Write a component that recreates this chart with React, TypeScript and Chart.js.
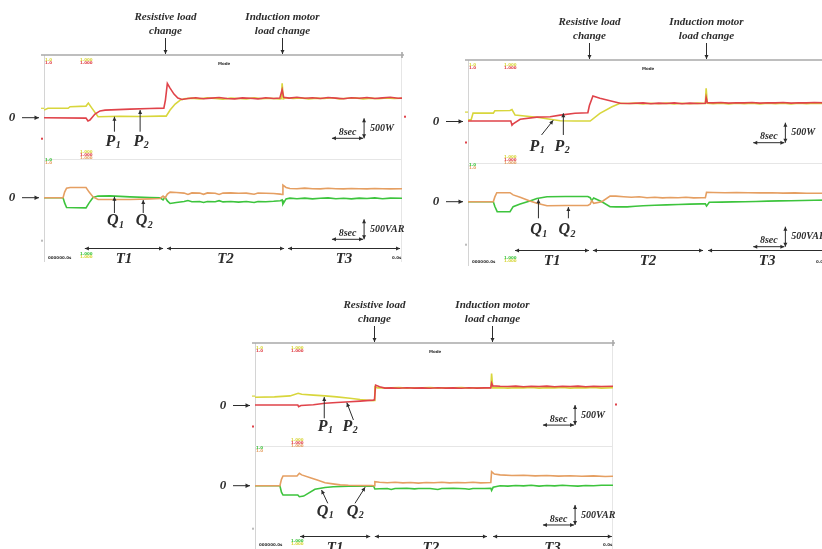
import React, { useEffect, useRef } from "react";
import { Chart, registerables } from "chart.js";

Chart.register(...registerables);

type Pt = [number, number];

// ---------- shared ----------
const TIME_SPAN = 92; // seconds shown across each scope screen
const SCALE_SEC = 8;
const SCALE_POWER = 500;
const T_LABELS = ["T1", "T2", "T3"];
const EVENT_LABELS: string[][] = [
  ["Resistive load", "change"],
  ["Induction motor", "load change"],
];

// ---------- Panel A (top left) : time [s], P [W], Q [VAR] ----------
const A_P1: Pt[] = [
  [0, 190], [1, 235], [6.2, 235], [6.7, 275], [10.8, 290], [11.4, 365], [12.3, 240], [13.9, 25],
  [19.5, 35], [24.7, 30], [29.8, 40], [31.4, 40], [32.4, 190], [33.7, 340], [35, 440], [36, 475],
  [38, 490], [40, 470], [42, 495], [44, 480], [46, 465], [48, 490], [50, 480], [52, 470], [54, 495],
  [56, 475], [58, 485], [60.6, 470], [61.0, 480], [61.2, 860], [61.5, 470], [62.2, 500], [64, 480],
  [66, 495], [68, 470], [70, 490], [72, 480], [74, 500], [76, 470], [78, 485], [80, 495], [82, 470],
  [84, 490], [86, 475], [88, 495], [90, 480], [92, 485],
];
const A_P2: Pt[] = [
  [0, 0], [10.8, -10], [11.3, -80], [11.8, -60], [13.1, 90], [14.4, 170], [15.7, 190], [22.1, 215],
  [27.2, 230], [30.8, 240], [31.2, 440], [31.7, 855], [32.4, 740], [33.4, 590], [34.4, 490], [35.5, 455],
  [37, 480], [39, 500], [41, 475], [43, 490], [45, 505], [47, 480], [49, 470], [51, 495], [53, 485],
  [55, 470], [57, 500], [59, 480], [60.6, 490], [61.2, 700], [61.6, 510], [63, 490], [65, 510], [67, 485],
  [69, 500], [71, 480], [73, 505], [75, 490], [77, 475], [79, 500], [81, 485], [83, 505], [85, 480],
  [87, 495], [89, 510], [91, 485], [92, 490],
];
const A_Q1: Pt[] = [
  [0, 0], [4.9, 0], [5.3, -130], [5.8, -245], [10.8, -255], [11.6, -130], [12.6, 5], [13.9, 40],
  [17, 45], [22.1, 20], [27.2, 5], [29.8, -5], [30.6, -55], [31.1, 15], [31.7, -80], [32.4, -145],
  [34, -120], [36, -95], [37, -70], [38, -100], [40, -95], [41, -120], [42, -95], [44, -100], [45, -75],
  [46, -105], [48, -95], [50, -110], [52, -95], [54, -120], [55, -95], [57, -100], [59, -90], [60.7, -75],
  [61.2, -55], [61.4, -160], [62.2, -30], [63.2, -10], [65, -25], [67, -10], [69, -30], [71, -15],
  [73, -5], [75, -25], [77, -15], [79, -30], [81, -10], [83, -20], [85, -5], [87, -25], [89, -10], [92, -15],
];
const A_Q2: Pt[] = [
  [0, 0], [4.9, 0], [5.3, 140], [5.8, 240], [6.7, 255], [10.8, 255], [11.6, 140], [12.6, 20], [13.9, -45],
  [17, -45], [22.1, -45], [27.2, -30], [29.8, -20], [30.6, 40], [31.1, -10], [31.7, 90], [32.4, 140],
  [34, 130], [36, 115], [37, 80], [38, 120], [40, 115], [41, 85], [42, 120], [44, 110], [45, 80], [46, 115],
  [48, 120], [50, 110], [52, 115], [54, 85], [55, 115], [57, 110], [59, 105], [60.7, 90], [61.2, 80],
  [61.4, 315], [62.2, 255], [63.2, 230], [65, 225], [67, 240], [69, 225], [71, 220], [73, 235], [75, 225],
  [77, 220], [79, 230], [81, 225], [83, 220], [85, 230], [87, 225], [89, 220], [92, 225],
];
const A_EVENTS = [31.1, 61.2];
const A_T: Pt[] = [[10.5, 30.6], [31.6, 61.7], [62.7, 91.5]];

// ---------- Panel B (top right) ----------
const B_P1: Pt[] = [
  [0, 40], [0.8, 40], [1.3, 210], [6.5, 210], [6.9, 270], [10.8, 275], [11.3, 300], [12.1, 160],
  [17.7, 105], [21.1, 55], [23.7, 20], [27.5, 12], [31.4, 12], [33.9, 205], [37, 370], [39.1, 455],
  [41, 450], [43, 460], [45, 440], [47, 455], [49, 445], [51, 460], [53, 440], [55, 455], [57, 445],
  [59, 460], [61.0, 450], [61.2, 830], [61.5, 455], [63, 445], [65, 460], [67, 440], [69, 455], [71, 445],
  [73, 460], [75, 440], [77, 455], [79, 445], [81, 460], [83, 440], [85, 455], [87, 445], [89, 460], [92, 450],
];
const B_P2: Pt[] = [
  [0, 12], [11.0, 12], [11.3, -90], [11.6, -60], [13.4, 55], [17.7, 110], [21.1, 120], [23.7, 160],
  [27.5, 205], [30.8, 220], [31.2, 400], [32.1, 640], [33.9, 580], [36.5, 520], [39.1, 455], [41.6, 450],
  [43, 455], [45, 465], [47, 445], [49, 460], [51, 450], [53, 465], [55, 445], [57, 460], [59, 450],
  [61.0, 455], [61.2, 600], [61.5, 470], [63, 465], [65, 475], [67, 460], [69, 470], [71, 465], [73, 475],
  [75, 460], [77, 470], [79, 465], [81, 475], [83, 460], [85, 470], [87, 465], [89, 475], [92, 465],
];
const B_Q1: Pt[] = [
  [0, 0], [6.5, 0], [6.9, -120], [7.5, -250], [10.8, -250], [11.6, -125], [13.4, -60], [15.9, 20],
  [17.7, 80], [20.3, 125], [25, 130], [30.8, 130], [31.4, 100], [31.8, 25], [32.3, 95], [34.4, 0],
  [36.5, -125], [38, -130], [40.9, -130], [43, -115], [45, -100], [48, -90], [51, -80], [54, -70],
  [57, -60], [60, -55], [61.0, -55], [61.3, -110], [62, -15], [65, -10], [68, -5], [71, 0], [74, 5],
  [77, 15], [80, 20], [83, 25], [86, 30], [89, 35], [92, 40],
];
const B_Q2: Pt[] = [
  [0, 0], [6.5, 0], [6.9, 120], [7.4, 225], [10.8, 225], [11.6, 170], [13.4, 110], [15.9, 20],
  [17.7, -40], [20.3, -100], [25, -95], [30.8, -95], [31.4, -60], [31.8, 25], [32.3, -40], [34.4, 0],
  [36.5, 140], [38, 140], [40, 125], [42, 110], [44, 125], [46, 100], [48, 110], [50, 95], [52, 105],
  [54, 100], [56, 110], [58, 95], [60, 100], [61.0, 100], [61.3, 235], [63, 230], [66, 225], [69, 230],
  [72, 225], [75, 220], [78, 225], [81, 215], [84, 220], [87, 210], [92, 210],
];
const B_EVENTS = [31.1, 61.2];
const B_T: Pt[] = [[12.1, 31.1], [32.1, 60.4], [61.7, 92]];

// ---------- Panel C (bottom) ----------
const C_P1: Pt[] = [
  [0, 205], [5, 215], [9, 240], [11.1, 305], [12, 280], [15, 260], [18, 240], [21, 215], [24.4, 180],
  [27, 150], [30.3, 120], [30.7, 125], [30.8, 470], [31.5, 440], [33, 445], [35, 440], [37, 450],
  [39, 435], [41, 445], [43, 440], [45, 450], [47, 435], [49, 445], [51, 440], [53, 450], [55, 435],
  [57, 445], [59, 440], [60.6, 445], [60.8, 800], [61.1, 440], [63, 445], [65, 435], [67, 445], [69, 440],
  [71, 450], [73, 435], [75, 445], [77, 440], [79, 450], [81, 435], [83, 445], [85, 440], [87, 450],
  [89, 435], [92, 445],
];
const C_P2: Pt[] = [
  [0, 12], [11.0, 12], [11.2, -30], [11.8, 0], [15, 20], [18, 55], [21, 75], [24.4, 95], [27, 110],
  [30.3, 135], [30.7, 140], [31.0, 510], [32, 470], [33.4, 435], [35, 440], [37, 430], [39, 445],
  [41, 435], [43, 440], [45, 430], [47, 445], [49, 435], [51, 440], [53, 430], [55, 445], [57, 435],
  [59, 440], [60.6, 440], [60.8, 560], [61.1, 490], [63, 480], [65, 475], [67, 485], [69, 470], [71, 480],
  [73, 475], [75, 485], [77, 470], [79, 480], [81, 475], [83, 485], [85, 470], [87, 480], [89, 475], [92, 480],
];
const C_Q1: Pt[] = [
  [0, 0], [6.4, 0], [6.8, -160], [7.2, -233], [11.0, -233], [11.4, -275], [12.5, -260], [15.4, -90],
  [18, -45], [20.1, -25], [24, -15], [27, -10], [30.5, -10], [30.8, -83], [32, -75], [34, -70], [35, -95],
  [36, -70], [39, -65], [41, -80], [42, -70], [45, -70], [47, -95], [48, -70], [51, -65], [54, -75],
  [55, -90], [56, -70], [59, -70], [60.6, -65], [60.8, -120], [61.2, -40], [63, 0], [65, -10], [67, 5],
  [69, -5], [71, 10], [73, -10], [75, 5], [77, -5], [79, 10], [81, 0], [83, -10], [85, 5], [87, 0],
  [89, 10], [92, 10],
];
const C_Q2: Pt[] = [
  [0, 0], [6.4, 0], [6.8, 160], [7.2, 243], [10.8, 243], [11.4, 310], [12, 270], [14.6, 185], [16, 140],
  [18, 75], [20, 45], [21.9, 20], [24, 10], [27, 5], [30, 5], [30.6, 0], [30.8, 100], [32, 85], [34, 75],
  [36, 85], [38, 70], [40, 80], [42, 65], [44, 80], [46, 75], [48, 85], [50, 70], [52, 80], [54, 75],
  [56, 85], [58, 70], [60.6, 80], [60.8, 350], [61.5, 290], [63, 270], [66, 255], [69, 260], [72, 245],
  [75, 255], [78, 240], [81, 250], [84, 235], [87, 245], [90, 230], [92, 235],
];
const C_EVENTS = [30.7, 60.8];
const C_T: Pt[] = [[11.6, 29.6], [30.8, 59.6], [61.2, 91.7]];

// ---------- annotation anchors (data units) ----------
type Mark = { name: string; sub: string; axis: "yP" | "yQ"; label: Pt; from: Pt; to: Pt };
const A_MARKS: Mark[] = [
  { name: "P", sub: "1", axis: "yP", label: [17.7, -600], from: [18.1, -350], to: [18.1, 25] },
  { name: "P", sub: "2", axis: "yP", label: [24.9, -600], from: [24.7, -350], to: [24.7, 192] },
  { name: "Q", sub: "1", axis: "yQ", label: [18.3, -583], from: [18.1, -383], to: [18.1, 25] },
  { name: "Q", sub: "2", axis: "yQ", label: [25.7, -583], from: [25.5, -383], to: [25.5, -58] },
];
const B_MARKS: Mark[] = [
  { name: "P", sub: "1", axis: "yP", label: [17.7, -630], from: [18.9, -337], to: [21.9, 30] },
  { name: "P", sub: "2", axis: "yP", label: [24.1, -630], from: [24.5, -337], to: [24.5, 205] },
  { name: "Q", sub: "1", axis: "yQ", label: [18.1, -707], from: [18.1, -415], to: [18.1, 60] },
  { name: "Q", sub: "2", axis: "yQ", label: [25.4, -707], from: [25.8, -415], to: [25.8, -135] },
];
const C_MARKS: Mark[] = [
  { name: "P", sub: "1", axis: "yP", label: [18.0, -530], from: [17.8, -320], to: [17.8, 212] },
  { name: "P", sub: "2", axis: "yP", label: [24.4, -530], from: [25.3, -362], to: [23.6, 70] },
  { name: "Q", sub: "1", axis: "yQ", label: [18.0, -650], from: [18.7, -440], to: [17.1, -107] },
  { name: "Q", sub: "2", axis: "yQ", label: [25.7, -650], from: [25.7, -440], to: [28.3, -40] },
];
const A_SCALE: Pt[] = [[74.0, -515], [74.0, -1040]];
const B_SCALE: Pt[] = [[73.3, -530], [73.3, -1125]];
const C_SCALE: Pt[] = [[74.0, -490], [74.0, -982]];

const COL = { p1: "#d8d63c", p2: "#e0434a", q1: "#3dc43d", q2: "#e59f62", text: "#2c2c2c" };
const SERIF = "'Liberation Serif', 'Times New Roman', serif";

const PANELS = [
  {
    key: "A", box: { left: 0, top: 0, width: 411, height: 275 },
    pad: { left: 44, top: 55, right: 9, bottom: 13 },
    pRange: [-3607.5, 1567.5], qRange: [-1607.5, 3567.5],
    p1: A_P1, p2: A_P2, q1: A_Q1, q2: A_Q2, events: A_EVENTS, tSegs: A_T,
    marks: A_MARKS, scale: A_SCALE, tLine: -14, tLabel: -3,
  },
  {
    key: "B", box: { left: 411, top: 0, width: 420, height: 275 },
    pad: { left: 57, top: 60, right: 5, bottom: 9 },
    pRange: [-3612.5, 1537.5], qRange: [-1607.5, 3542.5],
    p1: B_P1, p2: B_P2, q1: B_Q1, q2: B_Q2, events: B_EVENTS, tSegs: B_T,
    marks: B_MARKS, scale: B_SCALE, tLine: -16, tLabel: -5,
  },
  {
    key: "C", box: { left: 200, top: 290, width: 430, height: 259 },
    pad: { left: 55, top: 53, right: 17, bottom: 0 },
    pRange: [-3587.5, 1562.5], qRange: [-1582.5, 3567.5],
    p1: C_P1, p2: C_P2, q1: C_Q1, q2: C_Q2, events: C_EVENTS, tSegs: C_T,
    marks: C_MARKS, scale: C_SCALE, tLine: -13, tLabel: -1,
  },
];

// ---------- drawing helpers ----------
function head(ctx: CanvasRenderingContext2D, x: number, y: number, ang: number, size = 4.5) {
  const w = size * 0.5;
  ctx.beginPath();
  ctx.moveTo(x, y);
  ctx.lineTo(x - size * Math.cos(ang) + w * Math.sin(ang), y - size * Math.sin(ang) - w * Math.cos(ang));
  ctx.lineTo(x - size * Math.cos(ang) - w * Math.sin(ang), y - size * Math.sin(ang) + w * Math.cos(ang));
  ctx.closePath();
  ctx.fill();
}
function arrow(ctx: CanvasRenderingContext2D, x1: number, y1: number, x2: number, y2: number, start = false, end = true, size = 4.5) {
  ctx.beginPath();
  ctx.moveTo(x1, y1);
  ctx.lineTo(x2, y2);
  ctx.stroke();
  const a = Math.atan2(y2 - y1, x2 - x1);
  if (end) head(ctx, x2, y2, a, size);
  if (start) head(ctx, x1, y1, a + Math.PI, size);
}
function tag(ctx: CanvasRenderingContext2D, x: number, y: number, text: string, colors: string[]) {
  ctx.font = "bold 4px 'DejaVu Sans'";
  ctx.textAlign = "left";
  ctx.textBaseline = "middle";
  colors.forEach((c, i) => {
    ctx.fillStyle = c;
    ctx.fillText(text, x, y + i * 3);
  });
}

function drawFrame(chart: any) {
  const ctx: CanvasRenderingContext2D = chart.ctx;
  const { left, top, right, bottom } = chart.chartArea;
  ctx.save();
  ctx.lineWidth = 1;
  ctx.strokeStyle = "#d4d4d4";
  ctx.beginPath();
  ctx.moveTo(left + 0.5, top); ctx.lineTo(left + 0.5, bottom);
  ctx.stroke();
  ctx.strokeStyle = "#e6e6e6";
  ctx.beginPath();
  ctx.moveTo(right - 0.5, top); ctx.lineTo(right - 0.5, bottom);
  const mid = Math.round((top + bottom) / 2) + 0.5;
  ctx.moveTo(left, mid); ctx.lineTo(right, mid);
  ctx.stroke();
  ctx.strokeStyle = "#a9a9a9";
  ctx.lineWidth = 1.6;
  ctx.beginPath();
  ctx.moveTo(left - 3, top); ctx.lineTo(right + 2, top);
  ctx.moveTo(right, top - 3); ctx.lineTo(right, top + 3);
  ctx.stroke();
  ctx.restore();
}

function drawAnnotations(chart: any, cfg: any) {
  const ctx: CanvasRenderingContext2D = chart.ctx;
  const { left, top, right, bottom } = chart.chartArea;
  const sx = chart.scales.x;
  const axes: any = { yP: chart.scales.yP, yQ: chart.scales.yQ };
  ctx.save();
  ctx.fillStyle = COL.text;
  ctx.strokeStyle = COL.text;
  ctx.lineWidth = 1;

  // scope tags
  tag(ctx, left + 1, top + 5, "1.0", [COL.p1, COL.p2]);
  tag(ctx, left + 36, top + 5, "1.000", [COL.p1, COL.p2]);
  tag(ctx, left + 36, top + 97, "1.000", [COL.p1, COL.p2, COL.q2]);
  tag(ctx, left + 1, top + 105, "1.0", [COL.q1, COL.q2]);
  tag(ctx, left + 36, bottom - 8, "1.000", [COL.q1, COL.p1]);
  tag(ctx, left + 4, bottom - 4, "000000.0s", ["#333"]);
  tag(ctx, left + 174, top + 9, "Mode", ["#333"]);
  tag(ctx, right - 10, bottom - 4, "0.0s", ["#333"]);
  const p0 = axes.yP.getPixelForValue(0);
  const q0 = axes.yQ.getPixelForValue(0);
  ctx.fillStyle = COL.p1;
  ctx.fillRect(left - 3, p0 - 10, 3, 1.2);
  ctx.fillStyle = COL.p2;
  ctx.fillRect(left - 3, p0 + 20, 2, 2);
  ctx.fillRect(right + 2, p0 - 2, 2, 2);
  ctx.fillStyle = "#bbb";
  ctx.fillRect(left - 3, q0 + 42, 2, 2);

  ctx.fillStyle = COL.text;
  // event labels & arrows
  ctx.font = `italic bold 11px ${SERIF}`;
  ctx.textAlign = "center";
  ctx.textBaseline = "middle";
  cfg.events.forEach((t: number, i: number) => {
    const ex = Math.round(sx.getPixelForValue(t)) + 0.5;
    ctx.fillText(EVENT_LABELS[i][0], ex, top - 37.5);
    ctx.fillText(EVENT_LABELS[i][1], ex, top - 23.5);
    arrow(ctx, ex, top - 17, ex, top - 1, false, true, 4);
  });

  // zero markers
  [p0, q0].forEach((y) => {
    ctx.font = `italic bold 13px ${SERIF}`;
    ctx.textAlign = "center";
    ctx.fillText("0", left - 32, y);
    arrow(ctx, left - 22, y, left - 5, y, false, true, 4.5);
  });

  // P/Q labels with pointers
  cfg.marks.forEach((m: Mark) => {
    const ax = axes[m.axis];
    const cx = sx.getPixelForValue(m.label[0]);
    const cy = ax.getPixelForValue(m.label[1]);
    ctx.font = `italic bold 16px ${SERIF}`;
    const w1 = ctx.measureText(m.name).width;
    ctx.font = `italic bold 10px ${SERIF}`;
    const w2 = ctx.measureText(m.sub).width;
    const x0 = cx - (w1 + w2) / 2;
    ctx.textAlign = "left";
    ctx.font = `italic bold 16px ${SERIF}`;
    ctx.fillText(m.name, x0, cy);
    ctx.font = `italic bold 10px ${SERIF}`;
    ctx.fillText(m.sub, x0 + w1 + 0.5, cy + 4);
    arrow(ctx, sx.getPixelForValue(m.from[0]), ax.getPixelForValue(m.from[1]),
      sx.getPixelForValue(m.to[0]), ax.getPixelForValue(m.to[1]), false, true, 4);
  });

  // scale bars (8 s horizontally, 500 W / 500 VAR vertically)
  const units = ["500W", "500VAR"];
  ["yP", "yQ"].forEach((k, i) => {
    const ax = axes[k];
    const [t0, v0] = cfg.scale[i];
    const x0 = sx.getPixelForValue(t0);
    const x1 = sx.getPixelForValue(t0 + SCALE_SEC);
    const yb = ax.getPixelForValue(v0);
    const yt = ax.getPixelForValue(v0 + SCALE_POWER);
    arrow(ctx, x1, yb, x0, yb, true, true, 4);
    arrow(ctx, x1 + 1, yb, x1 + 1, yt, true, true, 4);
    ctx.font = `italic bold 10px ${SERIF}`;
    ctx.textAlign = "center";
    ctx.fillText("8sec", (x0 + x1) / 2, yb - 6);
    ctx.textAlign = "left";
    ctx.fillText(units[i], x1 + 7, yb - 10);
  });

  // T1/T2/T3 intervals
  const ty = bottom + cfg.tLine + 0.5;
  cfg.tSegs.forEach((s: Pt, i: number) => {
    const a = sx.getPixelForValue(s[0]);
    const b = sx.getPixelForValue(s[1]);
    arrow(ctx, a, ty, b, ty, true, true, 4);
    ctx.font = `italic bold 15px ${SERIF}`;
    ctx.textAlign = "center";
    ctx.fillText(T_LABELS[i], (a + b) / 2, bottom + cfg.tLabel);
  });
  ctx.restore();
}

const toXY = (arr: Pt[]) => arr.map(([x, y]) => ({ x, y }));

function Panel({ cfg }: { cfg: any }) {
  const ref = useRef<HTMLCanvasElement>(null);
  useEffect(() => {
    const canvas = ref.current;
    if (!canvas) return;
    const ds = (label: string, data: Pt[], axis: string, color: string) => ({
      label, data: toXY(data), yAxisID: axis, borderColor: color, backgroundColor: color,
      borderWidth: 1.6, pointRadius: 0, fill: false, tension: 0,
    });
    const chart = new Chart(canvas, {
      type: "line",
      data: {
        datasets: [
          ds("P2", cfg.p2, "yP", COL.p2),
          ds("P1", cfg.p1, "yP", COL.p1),
          ds("Q2", cfg.q2, "yQ", COL.q2),
          ds("Q1", cfg.q1, "yQ", COL.q1),
        ],
      },
      options: {
        animation: false,
        responsive: false,
        devicePixelRatio: 1,
        events: [],
        layout: { padding: cfg.pad },
        plugins: { legend: { display: false }, tooltip: { enabled: false }, title: { display: false } },
        scales: {
          x: { type: "linear", min: 0, max: TIME_SPAN, display: false },
          yP: { type: "linear", min: cfg.pRange[0], max: cfg.pRange[1], display: false },
          yQ: { type: "linear", min: cfg.qRange[0], max: cfg.qRange[1], display: false },
        },
      },
      plugins: [
        {
          id: "scope" + cfg.key,
          beforeDatasetsDraw: (c: any) => drawFrame(c),
          afterDatasetsDraw: (c: any) => drawAnnotations(c, cfg),
        },
      ],
    } as any);
    return () => chart.destroy();
  }, [cfg]);
  const b = cfg.box;
  return (
    <canvas
      ref={ref}
      width={b.width}
      height={b.height}
      style={{ position: "absolute", left: b.left, top: b.top, width: b.width, height: b.height }}
    />
  );
}

export default function App() {
  return (
    <div style={{ position: "absolute", left: 0, top: 0, width: 822, height: 549, overflow: "hidden", background: "#fff" }}>
      {PANELS.map((p) => (
        <Panel key={p.key} cfg={p} />
      ))}
    </div>
  );
}
